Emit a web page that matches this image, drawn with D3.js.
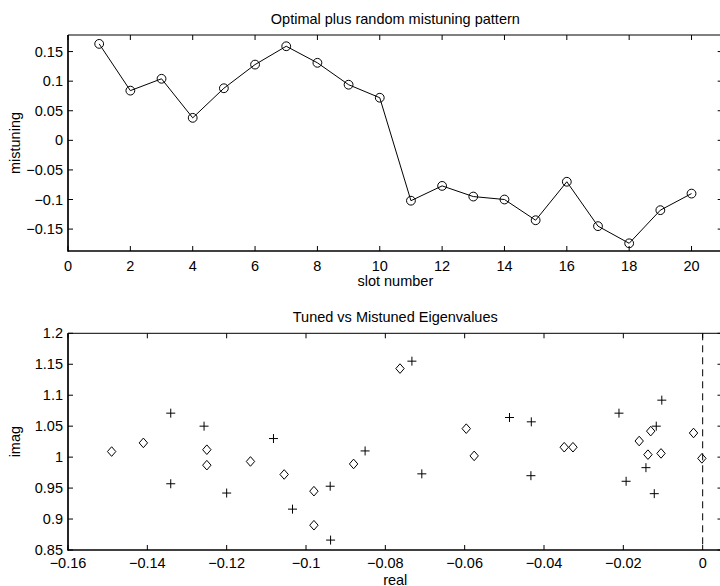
<!DOCTYPE html>
<html>
<head>
<meta charset="utf-8">
<script src="https://cdn.jsdelivr.net/npm/d3@7"></script>
<style>
  body { margin: 0; background: #fff; }
  svg { display: block; font-family: "Liberation Sans", Arial, Helvetica, sans-serif; }
</style>
</head>
<body>
<svg width="720" height="586"></svg>
<script>
// top panel: mistuning per slot
const slots = d3.range(1, 21)
const mistuning = [0.163, 0.084, 0.104, 0.038, 0.088, 0.128, 0.159, 0.131, 0.094, 0.072,
  -0.102, -0.077, -0.095, -0.100, -0.135, -0.070, -0.145, -0.174, -0.118, -0.090]
const topXTicks = [0, 2, 4, 6, 8, 10, 12, 14, 16, 18, 20]
const topYTicks = [-0.15, -0.1, -0.05, 0, 0.05, 0.1, 0.15]

// bottom panel: eigenvalues (real, imag)
const tunedReal = [-0.149, -0.141, -0.125, -0.125, -0.114, -0.1055, -0.098, -0.098, -0.088, -0.0763,
  -0.0596, -0.0576, -0.0349, -0.0327, -0.016, -0.0131, -0.0138, -0.0105, -0.0023, -0.0002]
const tunedImag = [1.009, 1.023, 1.012, 0.987, 0.993, 0.972, 0.945, 0.890, 0.989, 1.143,
  1.046, 1.002, 1.016, 1.016, 1.026, 1.042, 1.004, 1.006, 1.039, 0.998]
const mistunedReal = [-0.1341, -0.1341, -0.1257, -0.120, -0.1082, -0.1034, -0.0939, -0.0938, -0.0851, -0.0733,
  -0.0708, -0.0487, -0.0432, -0.0433, -0.0211, -0.0193, -0.0143, -0.0117, -0.0122, -0.0103]
const mistunedImag = [1.071, 0.957, 1.050, 0.942, 1.030, 0.916, 0.953, 0.866, 1.010, 1.155,
  0.973, 1.064, 1.057, 0.970, 1.071, 0.961, 0.983, 1.050, 0.941, 1.092]
const botXTicks = [-0.16, -0.14, -0.12, -0.1, -0.08, -0.06, -0.04, -0.02, 0]
const botYTicks = [0.85, 0.9, 0.95, 1, 1.05, 1.1, 1.15, 1.2]

const svg = d3.select('svg')
const fs = 14.5
const tickLen = 5
const fmt = v => (v < 0 ? '\u2212' : '') + String(+Math.abs(v).toFixed(3))

function panel(opt) {
  const g = svg.append('g')
  const x = opt.x, y = opt.y
  const [x0, x1] = x.range()
  const [y0, y1] = y.range() // y0 bottom, y1 top

  // box
  g.append('line').attr('x1', x0).attr('x2', x1).attr('y1', y1).attr('y2', y1)
    .attr('stroke', '#000').attr('stroke-width', 1)
  g.append('line').attr('x1', x1).attr('x2', x1).attr('y1', y1).attr('y2', y0)
    .attr('stroke', '#000').attr('stroke-width', 1)

  // ticks, inside on all four sides
  opt.xTicks.forEach(t => {
    const px = x(t)
    g.append('line').attr('x1', px).attr('x2', px).attr('y1', y0).attr('y2', y0 - tickLen).attr('stroke', '#000')
    g.append('line').attr('x1', px).attr('x2', px).attr('y1', y1).attr('y2', y1 + tickLen).attr('stroke', '#000')
    g.append('text').attr('x', px).attr('y', y0 + opt.tickDy).attr('text-anchor', 'middle')
      .attr('font-size', fs).text(fmt(t))
  })
  opt.yTicks.forEach(t => {
    const py = y(t)
    g.append('line').attr('x1', x0).attr('x2', x0 + tickLen).attr('y1', py).attr('y2', py).attr('stroke', '#000')
    g.append('line').attr('x1', x1).attr('x2', x1 - tickLen).attr('y1', py).attr('y2', py).attr('stroke', '#000')
    g.append('text').attr('x', x0 - 5).attr('y', py + 5).attr('text-anchor', 'end')
      .attr('font-size', fs).text(fmt(t))
  })

  g.append('line').attr('x1', x0).attr('x2', x0).attr('y1', y1).attr('y2', y0 + 0.75)
    .attr('stroke', '#000').attr('stroke-width', 1.7)
  g.append('line').attr('x1', x0).attr('x2', x1).attr('y1', y0).attr('y2', y0)
    .attr('stroke', '#000').attr('stroke-width', 1.7)

  const cx = (x0 + x1) / 2
  g.append('text').attr('x', cx).attr('y', y1 - 11).attr('text-anchor', 'middle')
    .attr('font-size', fs).text(opt.title)
  g.append('text').attr('x', cx).attr('y', y0 + opt.labelDy).attr('text-anchor', 'middle')
    .attr('font-size', fs).text(opt.xlabel)
  g.append('text').attr('transform', `translate(20,${(y0 + y1) / 2}) rotate(-90)`)
    .attr('text-anchor', 'middle').attr('font-size', fs).text(opt.ylabel)
  return g
}

// ---- top
const x1s = d3.scaleLinear().domain([0, 21]).range([68, 722.7])
const y1s = d3.scaleLinear().domain([-0.187, 0.178]).range([251, 35])
const g1 = panel({ x: x1s, y: y1s, xTicks: topXTicks, yTicks: topYTicks, tickDy: 19.5, labelDy: 35,
  title: 'Optimal plus random mistuning pattern', xlabel: 'slot number', ylabel: 'mistuning' })

g1.append('path')
  .datum(slots.map((s, i) => [s, mistuning[i]]))
  .attr('fill', 'none').attr('stroke', '#000').attr('stroke-width', 1)
  .attr('d', d3.line().x(d => x1s(d[0])).y(d => y1s(d[1])))

g1.selectAll('circle.m')
  .data(slots.map((s, i) => [s, mistuning[i]]))
  .join('circle')
  .attr('cx', d => x1s(d[0])).attr('cy', d => y1s(d[1])).attr('r', 4.4)
  .attr('fill', 'none').attr('stroke', '#000').attr('stroke-width', 1)

// ---- bottom
const x2s = d3.scaleLinear().domain([-0.16, 0.005]).range([68, 722.5])
const y2s = d3.scaleLinear().domain([0.85, 1.2]).range([550, 333.3])
const g2 = panel({ x: x2s, y: y2s, xTicks: botXTicks, yTicks: botYTicks, tickDy: 17.5, labelDy: 34.5,
  title: 'Tuned vs Mistuned Eigenvalues', xlabel: 'real', ylabel: 'imag' })

g2.append('line')
  .attr('x1', x2s(0)).attr('x2', x2s(0)).attr('y1', y2s(1.2)).attr('y2', y2s(0.85))
  .attr('stroke', '#000').attr('stroke-width', 1).attr('stroke-dasharray', '7,5')

g2.selectAll('path.diamond')
  .data(tunedReal.map((r, i) => [r, tunedImag[i]]))
  .join('path')
  .attr('class', 'diamond')
  .attr('d', d => {
    const px = x2s(d[0]), py = y2s(d[1])
    return `M${px},${py - 4.8}L${px + 4.2},${py}L${px},${py + 4.8}L${px - 4.2},${py}Z`
  })
  .attr('fill', 'none').attr('stroke', '#000').attr('stroke-width', 1)

g2.selectAll('path.plus')
  .data(mistunedReal.map((r, i) => [r, mistunedImag[i]]))
  .join('path')
  .attr('class', 'plus')
  .attr('d', d => {
    const px = x2s(d[0]), py = y2s(d[1])
    return `M${px - 4.5},${py}H${px + 4.5}M${px},${py - 4.5}V${py + 4.5}`
  })
  .attr('fill', 'none').attr('stroke', '#000').attr('stroke-width', 1)
</script>
</body>
</html>
